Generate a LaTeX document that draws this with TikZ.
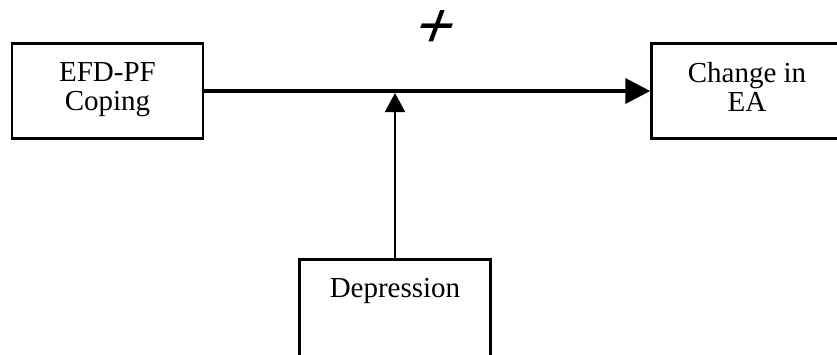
\documentclass[tikz,border=0pt]{standalone}
\usepackage{fontspec}
\setmainfont{Liberation Serif}
\newfontfamily\plusfont[FakeSlant=0.37]{Liberation Sans}
\usetikzlibrary{arrows.meta,positioning}

\begin{document}
\begin{tikzpicture}[
    x=1pt, y=-1pt,
    node distance=446pt,
    box/.style={
        rectangle, draw=black, line width=2.5pt,
        align=center, minimum width=191pt, minimum height=95pt,
        inner sep=3pt, font=\fontsize{29}{29}\selectfont,
        execute at begin node=\strut, execute at end node=\strut
    },
    arrow/.style={-{Triangle[length=25pt, width=25pt]}, line width=4pt},
    thinarrow/.style={-{Triangle[length=19pt, width=20pt]}, line width=2pt},
    sign/.style={font=\plusfont\fontsize{64}{64}\selectfont, inner sep=0pt, anchor=base}
]
\clip (0,0) rectangle (837,354);
\node[box] (efd) at (107.5,91) {EFD-PF\\Coping};
\node[box, right=of efd] (change) {Change in\\EA};
\node[box, anchor=north, text height=34.75pt, text depth=60pt] (dep) at (395,258) {Depression};
\node[sign] (plus) at (429.6,47.6) {+};
\coordinate (join) at ([yshift=-2pt]dep.north |- efd.east);

\draw[arrow] (efd) -- (change);
\draw[thinarrow] (dep) -- (join);
\end{tikzpicture}
\end{document}
